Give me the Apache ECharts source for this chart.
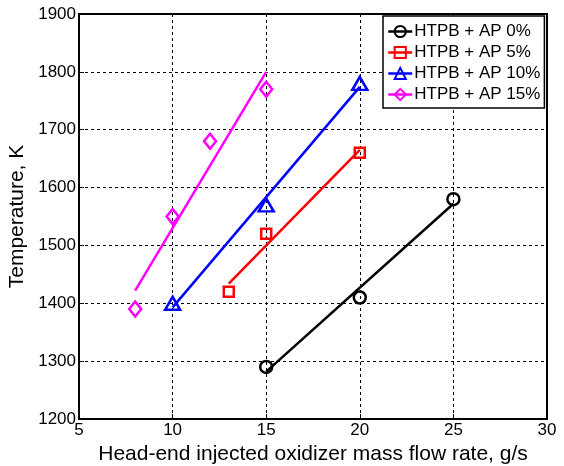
<!DOCTYPE html>
<html>
<head>
<meta charset="utf-8">
<script src="https://cdn.jsdelivr.net/npm/echarts@6/dist/echarts.min.js"></script>
<style>
  html, body { margin: 0; padding: 0; background: #fff; }
  #chart { width: 564px; height: 466px; }
</style>
</head>
<body>
<div id="chart"></div>
<script>
// measured points
const ap0 = [[15, 1290], [20, 1410], [25, 1580]]
const ap5 = [[13, 1420], [15, 1520], [20, 1660]]
const ap10 = [[10, 1400], [15, 1570], [20, 1780]]
const ap15 = [[8, 1390], [10, 1550], [12, 1680], [15, 1770]]

// fit lines, end points
const fit0 = [[15, 1282], [25, 1572]]
const fit5 = [[13, 1434], [20, 1665]]
const fit10 = [[10, 1393], [20, 1774]]
const fit15 = [[8, 1422], [15, 1800]]

const names = ['HTPB + AP 0%', 'HTPB + AP 5%', 'HTPB + AP 10%', 'HTPB + AP 15%']
const colors = ['#000000', '#ff0000', '#0000ff', '#ff00ff']
const symbols = ['circle', 'rect', 'triangle', 'diamond']
const sizes = [12, 10, [15, 13], [12, 15]]
const points = [ap0, ap5, ap10, ap15]
const fits = [fit0, fit5, fit10, fit15]

const font = 'Liberation Sans, Arial, sans-serif'

const series = []
for (let i = 0; i < 4; i++) {
  series.push({
    type: 'line',
    data: fits[i],
    symbol: 'none',
    silent: true,
    lineStyle: {color: colors[i], width: 2.5},
    z: 2
  })
}
for (let i = 0; i < 4; i++) {
  series.push({
    name: names[i],
    type: 'line',
    data: points[i],
    symbol: symbols[i],
    symbolSize: sizes[i],
    showAllSymbol: true,
    lineStyle: {color: colors[i], width: 2.5, opacity: 0},
    itemStyle: {color: 'transparent', borderColor: colors[i], borderWidth: 2.5},
    z: 3
  })
}

const axisCommon = {
  axisLine: {show: true, lineStyle: {color: '#000', width: 2}},
  axisTick: {show: true, inside: true, length: 5, lineStyle: {color: '#000', width: 1}},
  splitLine: {show: true, lineStyle: {color: '#000', width: 1, type: [3, 3]}},
  axisLabel: {color: '#000', fontSize: 17, fontFamily: font, margin: 3, formatter: v => String(v)},
  nameTextStyle: {color: '#000', fontSize: 21, fontFamily: font}
}

const option = {
  animation: false,
  backgroundColor: '#fff',
  grid: {
    left: 79, right: 17, top: 14, bottom: 47,
    outerBoundsMode: 'none',
    containLabel: false,
    show: true, borderColor: '#000', borderWidth: 2, backgroundColor: 'transparent'
  },
  legend: {
    data: names,
    orient: 'vertical',
    left: 383,
    top: 16,
    padding: [7, 4, 5, 4],
    itemGap: 4,
    itemWidth: 24,
    itemHeight: 14,
    backgroundColor: '#fff',
    borderColor: '#000',
    borderWidth: 1.5,
    borderRadius: 0,
    lineStyle: {opacity: 1, width: 2.5},
    textStyle: {color: '#000', fontSize: 17, fontFamily: font, lineHeight: 17, padding: [0, 0, 0, -3]}
  },
  xAxis: Object.assign({}, axisCommon, {
    type: 'value',
    min: 5, max: 30, interval: 5,
    name: 'Head-end injected oxidizer mass flow rate, g/s',
    nameLocation: 'middle',
    nameGap: 13
  }),
  yAxis: Object.assign({}, axisCommon, {
    type: 'value',
    min: 1200, max: 1900, interval: 100,
    name: 'Temperature, K',
    nameLocation: 'middle',
    nameGap: 42
  }),
  series: series
}

const myChart = echarts.init(document.getElementById('chart'))
myChart.setOption(option)
</script>
</body>
</html>
